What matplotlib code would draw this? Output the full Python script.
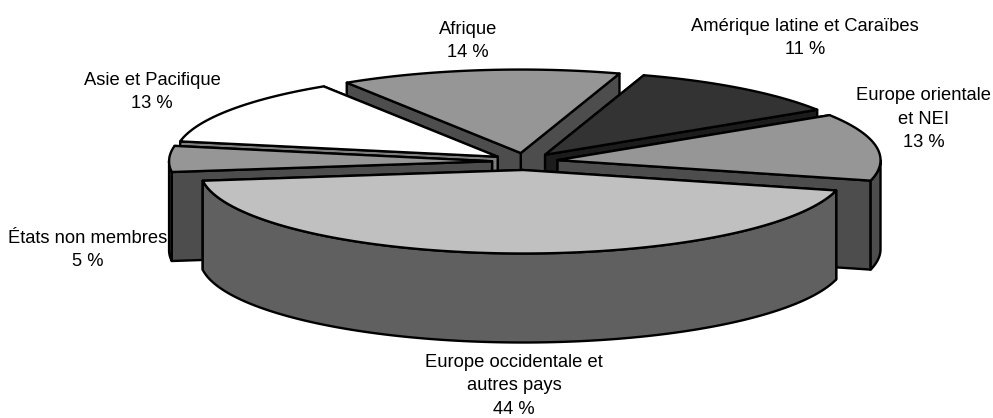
import numpy as np
import matplotlib
matplotlib.use("Agg")
import matplotlib.pyplot as plt
from matplotlib.patches import Polygon

# Slices in clockwise order, starting with the one at the top
regions = ["Afrique", "Amérique latine et Caraïbes", "Europe orientale\net NEI",
           "Europe occidentale et\nautres pays", "États non membres", "Asie et Pacifique"]
shares = [14, 11, 13, 44, 5, 13]
top_colors = ["#969696", "#333333", "#969696", "#c0c0c0", "#969696", "#ffffff"]
side_colors = ["#4d4d4d", "#1c1c1c", "#4d4d4d", "#606060", "#4d4d4d", "#808080"]
label_xy = [(468, 41), (805, 38), (924, 119), (514, 386), (88, 250), (152, 92)]

# Pie geometry, in pixels
cx, cy = 525, 161.5
rx, ry = 323, 83.5
depth = 89
explode = 0.102
start_angle = -32.6


def rim_point(angle):
    t = np.radians(angle)
    return np.sin(t), -np.cos(t)


def arc(x0, y0, a0, a1):
    t = np.radians(np.linspace(a0, a1, 120))
    return np.column_stack([x0 + rx * np.sin(t), y0 - ry * np.cos(t)])


def draw_slice(ax, a0, a1, top, side):
    mid = (a0 + a1) / 2
    ux, uy = rim_point(mid)
    x0 = cx + explode * rx * ux
    y0 = cy + explode * ry * uy
    style = dict(edgecolor="black", linewidth=1.7, joinstyle="round")

    # Cut faces going back to the apex, rear one first
    for a in sorted((a0, a1), key=lambda v: -np.cos(np.radians(v))):
        px, py = arc(x0, y0, a, a)[0]
        ax.add_patch(Polygon([(x0, y0), (px, py), (px, py + depth), (x0, y0 + depth)],
                             facecolor=side, **style))

    # Outer wall, only the part turned towards the viewer
    for shift in (0, 360):
        lo, hi = max(a0, 90 + shift), min(a1, 270 + shift)
        if hi > lo:
            upper = arc(x0, y0, lo, hi)
            lower = upper[::-1] + [0, depth]
            ax.add_patch(Polygon(np.vstack([upper, lower]), facecolor=side, **style))

    # Top face
    ax.add_patch(Polygon(np.vstack([[(x0, y0)], arc(x0, y0, a0, a1)]), facecolor=top, **style))


fig = plt.figure(figsize=(9.93, 4.18), dpi=100)
ax = fig.add_axes([0, 0, 1, 1])
ax.set_xlim(0, 993)
ax.set_ylim(418, 0)
ax.axis("off")

spans = np.array(shares) * 3.6
starts = start_angle + np.concatenate([[0], np.cumsum(spans)[:-1]])
mids = starts + spans / 2

# Paint from the back of the pie to the front
for i in np.argsort(-np.cos(np.radians(mids))):
    draw_slice(ax, starts[i], starts[i] + spans[i], top_colors[i], side_colors[i])

for name, value, (x, y) in zip(regions, shares, label_xy):
    ax.text(x, y, f"{name}\n{value} %", ha="center", va="center", multialignment="center",
            fontsize=13.2, family="Liberation Sans", linespacing=1.52, color="black")

fig.savefig("out.png", dpi=100)
plt.close(fig)
